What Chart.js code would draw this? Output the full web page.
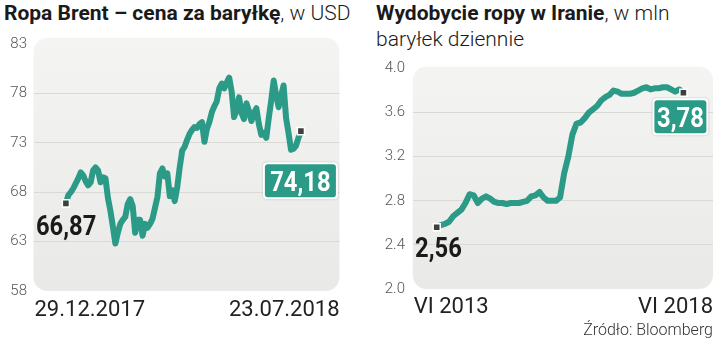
<!DOCTYPE html>
<html>
<head>
<meta charset="utf-8">
<script src="https://cdn.jsdelivr.net/npm/chart.js@4.4.1/dist/chart.umd.min.js"></script>
<style>
    body { margin: 0; width: 720px; height: 341px; background: #fff; position: relative; overflow: hidden; font-family: Roboto, sans-serif; color: #1a1a1a; }
    .title { position: absolute; top: 0px; font-size: 21px; line-height: 26px; font-weight: 300; white-space: nowrap; }
    .title b { font-weight: 700; }
    .panel { position: absolute; top: 0; height: 341px; }
    #source { position: absolute; right: 7px; top: 320px; font-size: 16px; font-weight: 300; color: #333; }
</style>
</head>
<body>
<div class="title" style="left:4px"><b>Ropa Brent – cena za baryłkę</b>, w USD</div>
<div class="title" style="left:376px"><b>Wydobycie ropy w Iranie</b>, w mln<br>baryłek dziennie</div>
<div class="panel" style="left:0;width:355px"><canvas id="brent"></canvas></div>
<div class="panel" style="left:360px;width:360px"><canvas id="iran"></canvas></div>
<div id="source">Źródło: Bloomberg</div>

<script>
// Brent, USD per barrel, 29.12.2017 - 23.07.2018
const brentDates = ['29.12.2017', '23.07.2018']
const brentTicks = [58, 63, 68, 73, 78, 83]
const brentPrices = [
    66.87, 67.7, 68.0, 68.4, 68.9, 69.4, 70.0, 69.7, 69.1, 68.7,
    69.0, 70.2, 70.5, 70.2, 69.0, 69.5, 69.4, 67.4, 66.1, 64.5,
    62.8, 63.9, 64.8, 65.2, 65.5, 66.8, 67.3, 66.6, 63.9, 65.2,
    65.2, 63.6, 64.8, 64.4, 64.8, 65.3, 66.4, 67.5, 69.9, 70.4,
    69.6, 69.9, 67.6, 68.2, 67.1, 68.5, 70.5, 72.2, 72.6, 73.3,
    73.9, 74.3, 74.6, 74.5, 74.9, 75.1, 73.1, 74.4, 75.1, 76.1,
    76.7, 77.2, 78.5, 79.0, 78.5, 79.1, 79.6, 78.2, 75.6, 76.3,
    77.6, 76.0, 75.4, 77.0, 76.2, 75.2, 76.0, 76.5, 74.9, 73.8,
    74.0, 73.5, 75.5, 77.3, 79.3, 77.8, 76.6, 77.8, 78.8, 75.5,
    74.0, 72.3, 72.4, 72.7, 73.5, 74.18
]

// Iran crude output, mln barrels per day, monthly VI 2013 - VI 2018
const iranMonths = ['VI 2013', 'VI 2018']
const iranTicks = [2.0, 2.4, 2.8, 3.2, 3.6, 4.0]
const iranOutput = [
    2.56, 2.58, 2.59, 2.61, 2.66, 2.69, 2.72, 2.78, 2.86, 2.85,
    2.78, 2.82, 2.84, 2.82, 2.79, 2.78, 2.78, 2.77, 2.78, 2.78,
    2.78, 2.79, 2.80, 2.84, 2.85, 2.88, 2.83, 2.80, 2.80, 2.80,
    2.83, 3.05, 3.20, 3.40, 3.50, 3.51, 3.55, 3.60, 3.63, 3.66,
    3.71, 3.74, 3.76, 3.80, 3.79, 3.77, 3.77, 3.77, 3.78, 3.80,
    3.82, 3.83, 3.81, 3.82, 3.82, 3.83, 3.83, 3.81, 3.79, 3.81,
    3.78
]

const TEAL = '#2b9a86'

const fmtComma = (v, d) => v.toFixed(d).replace('.', ',')

const roundRect = (ctx, x, y, w, h, r) => {
    ctx.beginPath()
    ctx.moveTo(x + r, y)
    ctx.arcTo(x + w, y, x + w, y + h, r)
    ctx.arcTo(x + w, y + h, x, y + h, r)
    ctx.arcTo(x, y + h, x, y, r)
    ctx.arcTo(x, y, x + w, y, r)
    ctx.closePath()
}

// draws condensed bold number like the newspaper font
const drawNumber = (ctx, text, x, y, align, color) => {
    ctx.save()
    ctx.font = 'bold 28px Roboto'
    ctx.fillStyle = color
    ctx.textBaseline = 'alphabetic'
    const w = ctx.measureText(text).width * 0.85
    const left = align === 'center' ? x - w / 2 : x
    ctx.translate(left, y)
    ctx.scale(0.85, 1)
    ctx.textAlign = 'left'
    ctx.fillText(text, 0, 0)
    ctx.restore()
}

const panelPlugin = {
    id: 'panel',
    beforeDraw(chart, args, o) {
        const { ctx, chartArea: a } = chart
        const top = a.top - o.bgTop
        const g = ctx.createLinearGradient(0, top, 0, a.bottom)
        g.addColorStop(0, '#f4f4f2')
        g.addColorStop(1, '#e9e9e7')
        ctx.save()
        roundRect(ctx, a.left, top, a.right - a.left, a.bottom - top, 14)
        ctx.fillStyle = g
        ctx.fill()
        ctx.restore()
    },
    afterDraw(chart, args, o) {
        const { ctx, chartArea: a } = chart
        ctx.save()
        ctx.font = '22px Roboto'
        ctx.fillStyle = '#222'
        ctx.textBaseline = 'alphabetic'
        ctx.textAlign = 'left'
        ctx.fillText(o.xLabels[0], a.left + 1, a.bottom + o.xLabelDy)
        ctx.textAlign = 'right'
        ctx.fillText(o.xLabels[1], a.right, a.bottom + o.xLabelDy)
        ctx.restore()

        const pts = chart.getDatasetMeta(0).data
        const values = chart.data.datasets[0].data
        const first = pts[0]
        const last = pts[pts.length - 1]

        drawNumber(ctx, fmtComma(values[0], 2), first.x + o.firstDx, first.y + o.firstDy, 'left', '#1a1a1a')

        const bx = last.x + o.boxDx - o.boxW / 2
        const by = last.y + o.boxDy
        ctx.save()
        ctx.shadowColor = 'rgba(0,0,0,0.25)'
        ctx.shadowBlur = 2
        roundRect(ctx, bx, by, o.boxW, 37, 4)
        ctx.fillStyle = '#fff'
        ctx.fill()
        ctx.restore()
        ctx.save()
        roundRect(ctx, bx + 2, by + 2, o.boxW - 4, 33, 3)
        ctx.fillStyle = TEAL
        ctx.fill()
        ctx.restore()
        drawNumber(ctx, fmtComma(values[values.length - 1], 2), bx + o.boxW / 2, by + 18.5 + 10, 'center', '#fff')
    }
}

const makeChart = (id, values, ticks, o) => {
    const lo = ticks[0]
    const hi = ticks[ticks.length - 1]
    const lastIdx = values.length - 1
    return new Chart(document.getElementById(id), {
        type: 'line',
        data: {
            labels: values.map((v, i) => i),
            datasets: [{
                data: values,
                borderColor: TEAL,
                borderWidth: 6,
                borderJoinStyle: 'round',
                borderCapStyle: 'round',
                tension: 0,
                pointStyle: 'rect',
                pointRadius: c => (c.dataIndex === 0 || c.dataIndex === lastIdx) ? 5 : 0,
                pointBackgroundColor: '#3f3f3f',
                pointBorderColor: '#fff',
                pointBorderWidth: 1.5
            }]
        },
        options: {
            responsive: true,
            maintainAspectRatio: false,
            animation: false,
            events: [],
            layout: { padding: o.padding },
            plugins: {
                legend: { display: false },
                tooltip: { enabled: false },
                panel: o
            },
            scales: {
                x: {
                    type: 'linear',
                    display: false,
                    min: o.xMin,
                    max: lastIdx + o.xMaxExtra
                },
                y: {
                    min: lo,
                    max: hi,
                    afterBuildTicks: s => { s.ticks = ticks.map(v => ({ value: v })) },
                    afterFit: s => { s.width = o.axisWidth },
                    border: { display: false },
                    grid: {
                        drawTicks: false,
                        color: c => (c.tick.value > lo && c.tick.value < hi) ? '#d9d9d6' : 'rgba(0,0,0,0)',
                        lineWidth: 1
                    },
                    ticks: {
                        padding: o.tickPad,
                        color: '#555',
                        font: { family: 'Roboto', size: 15, weight: 300 },
                        callback: v => v.toFixed(o.tickDecimals)
                    }
                }
            }
        },
        plugins: [panelPlugin]
    })
}

makeChart('brent', brentPrices, brentTicks, {
    padding: { top: 44, bottom: 50, left: 0, right: 15.5 },
    axisWidth: 33.5,
    tickPad: 6.5,
    tickDecimals: 0,
    xMin: -13.1,
    xMaxExtra: 15.6,
    bgTop: 6,
    xLabels: brentDates,
    xLabelDy: 25,
    firstDx: -30, firstDy: 32,
    boxW: 75, boxDx: -0.5, boxDy: 31
})

makeChart('iran', iranOutput, iranTicks, {
    padding: { top: 68.5, bottom: 52, left: 0, right: 7 },
    axisWidth: 52.7,
    tickPad: 7.7,
    tickDecimals: 1,
    xMin: -5.84,
    xMaxExtra: 7.2,
    bgTop: 2,
    xLabels: iranMonths,
    xLabelDy: 24,
    firstDx: -21.7, firstDy: 30,
    boxW: 56, boxDx: -3, boxDy: 5.6
})
</script>
</body>
</html>
